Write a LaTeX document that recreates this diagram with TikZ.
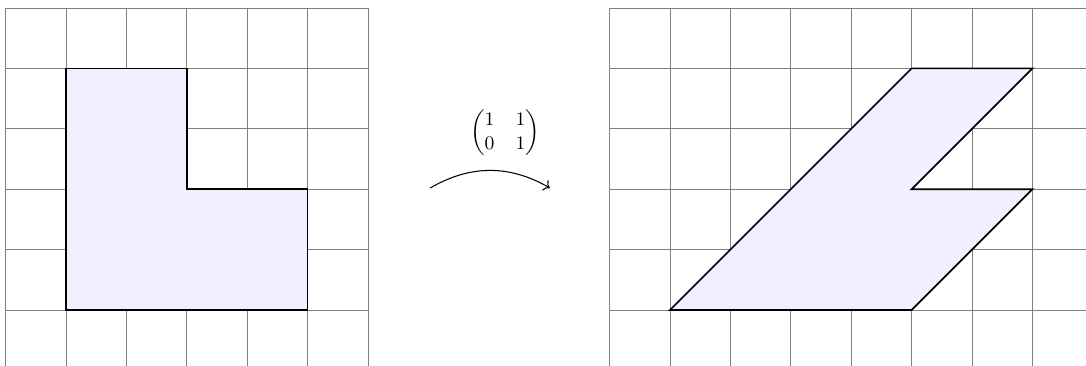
\documentclass[tikz,border=0pt]{standalone}
\usepackage{amsmath}
\usetikzlibrary{arrows.meta,positioning}
\tikzset{
  gridln/.style={gray,line width=0.4pt},
  shapefill/.style={fill=blue!6,draw=black,thick},
  maparr/.style={->,line width=0.5pt},
  lbl/.style={font=\small}
}
\begin{document}
\begin{tikzpicture}
  \useasboundingbox (-1.093,-0.927) rectangle (16.887,5.132);
  % Grids
  \draw[gridln] (-1,-1) grid (5,5);
  \draw[gridln] (9,-1) grid (17,5);

  % Original L shape
  \filldraw[shapefill] (0,0) -- (4,0) -- (4,2) -- (2,2) -- (2,4) -- (0,4) -- cycle;

  % Sheared image
  \filldraw[shapefill] (10,0) -- (14,0) -- (16,2) -- (14,2) -- (16,4) -- (14,4) -- cycle;

  % Map
  \coordinate (src) at (6.03,2.02);
  \coordinate (dst) at (8.01,2.02);
  \draw[maparr] (src) to[bend left=30] (dst);
  \node[lbl] (mat) at (7.27,2.93) {$\begin{pmatrix}1&1\\0&1\end{pmatrix}$};
\end{tikzpicture}
\end{document}
